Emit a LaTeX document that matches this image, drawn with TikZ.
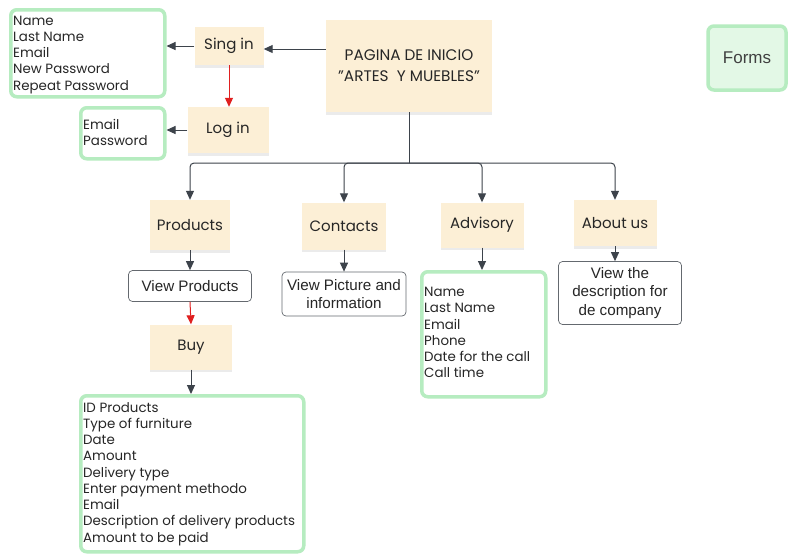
\documentclass[tikz,border=0pt]{standalone}
\usepackage{fontspec}
\setmainfont{Poppins}
\newfontfamily\arialf{Liberation Sans}
\usetikzlibrary{arrows.meta,shadows}
\definecolor{beige}{HTML}{FCEFD6}
\definecolor{gborder}{HTML}{B6ECC0}
\definecolor{gfill}{HTML}{E3F8E6}
\definecolor{lineg}{HTML}{3D434B}
\definecolor{redl}{HTML}{E02020}
\tikzset{
  pagebox/.style={fill=beige, draw=none, inner sep=0pt,
     drop shadow={shadow xshift=0pt, shadow yshift=-2.5pt, opacity=0.08, fill=black}},
  listbox/.style={draw=gborder, line width=3.5pt, rounded corners=6pt, fill=white,
     anchor=north west, inner sep=0pt},
  listtext/.style={anchor=north west, align=left, inner sep=0pt, text=black!85,
     font=\fontsize{13.4}{16.25}\selectfont},
  whitebox/.style={draw=lineg!80, line width=0.7pt, rounded corners=4pt, fill=white,
     align=center, font=\arialf\fontsize{15.2}{18.5}\selectfont, inner sep=0pt, text=black!85},
  conn/.style={draw=lineg, line width=1pt, -{Triangle[width=8pt,length=9pt]}},
  redconn/.style={draw=redl, line width=1pt, -{Triangle[width=8pt,length=9pt]}},
  lbl/.style={font=\fontsize{15}{18}\selectfont, text=black!85}
}
\begin{document}
\begin{tikzpicture}[x=1pt,y=-1pt]
\useasboundingbox[fill=white] (0,0) rectangle (798,558);
% main
\node[pagebox, minimum width=166pt, minimum height=92pt, align=center, text=black!85,
      font=\fontsize{15.3}{21}\selectfont] (main) at (409,66)
      {PAGINA DE INICIO\\"ARTES\ \ Y MUEBLES"};
% sign / log
\node[pagebox, minimum width=69pt, minimum height=38pt, lbl] (sing) at (229,46) {Sing in};
\node[pagebox, minimum width=81pt, minimum height=46pt, lbl] (log) at (228,130) {Log in};
% lists
\node[listbox, minimum width=154pt, minimum height=87pt] (signlist) at (9,8) {};
\node[listtext] at (13,15.5) {Name\\Last Name\\Email\\New Password\\Repeat Password};
\node[listbox, minimum width=84pt, minimum height=51pt] (loglist) at (79,106) {};
\node[listtext] at (83,119) {Email\\Password};
% forms
\node[draw=gborder, line width=3.5pt, rounded corners=6pt, fill=gfill,
      minimum width=78pt, minimum height=64pt, font=\arialf\fontsize{17}{20}\selectfont,
      text=black!75] (forms) at (747,58) {Forms};
% second level
\node[pagebox, minimum width=80pt, minimum height=50pt, lbl] (prod) at (190,225) {Products};
\node[pagebox, minimum width=84pt, minimum height=47pt, lbl] (cont) at (344,226) {Contacts};
\node[pagebox, minimum width=83pt, minimum height=45pt, lbl] (adv) at (482,225) {Advisory};
\node[pagebox, minimum width=83pt, minimum height=46pt, lbl] (about) at (615,223) {About us};
% white boxes
\node[whitebox, minimum width=123pt, minimum height=31pt] (vprod) at (190,286) {View Products};
\node[whitebox, minimum width=124pt, minimum height=44pt] (vpic) at (344,294) {View Picture and\\information};
\node[whitebox, minimum width=123pt, minimum height=63pt] (vdesc) at (620,293) {View the\\description for\\de company};
% advisory list
\node[listbox, minimum width=124pt, minimum height=125pt] (advlist) at (420,270) {};
\node[listtext] at (424,287) {Name\\Last Name\\Email\\Phone\\Date for the call\\Call time};
% buy
\node[pagebox, minimum width=82pt, minimum height=45pt, lbl] (buy) at (191,347) {Buy};
\node[listbox, minimum width=223pt, minimum height=156pt] (buylist) at (79,394) {};
\node[listtext] at (83,402)
   {ID Products\\Type of furniture\\Date\\Amount\\Delivery type\\Enter payment methodo\\Email\\Description of delivery products\\Amount to be paid};
% connectors
\draw[conn] (main.west |- 0,49) -- (sing.east |- 0,49);
\draw[conn] (sing.west) -- (signlist.east |- sing.west);
\draw[redconn] (sing.south) -- (log.north -| sing.south);
\draw[conn] (log.west) -- (loglist.east |- log.west);
\coordinate (hub) at (409,163);
\draw[draw=lineg, line width=1pt] (main.south) -- (hub);
\draw[conn, rounded corners=4pt] (hub) -| (prod.north);
\draw[conn, rounded corners=4pt] (hub) -| (cont.north);
\draw[conn, rounded corners=4pt] (hub) -| (adv.north);
\draw[conn, rounded corners=4pt] (hub) -| (about.north);
\draw[conn] (prod.south) -- (vprod.north);
\draw[redconn] (vprod.south) -- (buy.north);
\draw[conn] (buy.south) -- (buylist.north -| buy.south);
\draw[conn] (cont.south) -- (vpic.north);
\draw[conn] (adv.south) -- (advlist.north -| adv.south);
\draw[conn] (about.south) -- (vdesc.north -| about.south);
\end{tikzpicture}
\end{document}
